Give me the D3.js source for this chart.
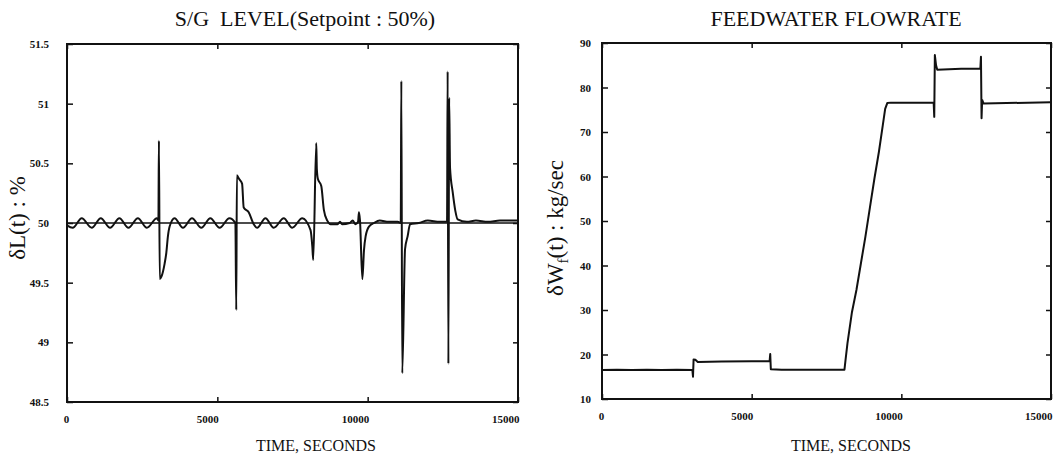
<!DOCTYPE html>
<html>
<head>
<meta charset="utf-8">
<script src="https://cdn.jsdelivr.net/npm/d3@7"></script>
<style>
  html, body { margin: 0; padding: 0; background: #fff; }
  svg { display: block; }
  text { font-family: "Liberation Serif", "Times New Roman", serif; fill: #111; }
  .tick text { font-weight: bold; font-size: 11px; }
</style>
</head>
<body>
<svg id="chart" width="1059" height="459"></svg>
<script>
// Time axis (seconds) shared by both panels
const timeTicks = [0, 5000, 10000, 15000];

// Steam generator level response, % (setpoint 50 %)
const levelTicks = [48.5, 49, 49.5, 50, 50.5, 51, 51.5];
const levelTime = [
  0, 190, 490, 823, 1123, 1433, 1743, 2043, 2357, 2657, 2990, 3040,
  3057, 3085, 3140, 3247, 3303, 3357, 3413, 3577, 3857, 4157, 4467, 4767,
  5077, 5400, 5600, 5630, 5650, 5720, 5823, 5877, 6043, 6210, 6323, 6600,
  6877, 7210, 7490, 7823, 8100, 8160, 8190, 8290, 8310, 8343, 8457, 8543,
  8657, 8767, 9000, 9080, 9150, 9400, 9500, 9600, 9680, 9710, 9745, 9823,
  9877, 9933, 10043, 10210, 10400, 10700, 11000, 11100, 11120, 11150, 11243, 11330,
  11410, 11700, 12000, 12400, 12640, 12660, 12685, 12710, 12740, 12827, 12917, 12993,
  13300, 13600, 14000, 14400, 15000
];
const levelValue = [
  49.98, 49.96, 50.04, 49.96, 50.04, 49.96, 50.04, 49.96, 50.04, 49.96, 50.04, 50.02,
  50.69, 49.53, 49.55, 49.66, 49.75, 49.89, 49.97, 50.04, 49.96, 50.04, 49.96, 50.04,
  49.96, 50.04, 50.00, 49.27, 50.40, 50.37, 50.33, 50.13, 50.09, 49.99, 49.96, 50.04,
  49.96, 50.04, 49.96, 50.04, 49.94, 49.80, 49.69, 50.67, 50.45, 50.37, 50.31, 50.11,
  50.02, 49.99, 49.99, 50.01, 49.99, 50.00, 50.02, 49.99, 50.01, 50.09, 50.02, 49.53,
  49.77, 49.89, 49.97, 50.00, 50.02, 50.01, 50.01, 50.00, 51.19, 48.74, 49.78, 49.89,
  49.99, 50.00, 50.02, 50.01, 50.01, 51.27, 48.82, 51.05, 50.46, 50.26, 50.10, 50.03,
  50.01, 50.02, 50.01, 50.02, 50.02
];
const setpoint = [50];

// Feedwater flow rate, kg/sec
const flowTicks = [10, 20, 30, 40, 50, 60, 70, 80, 90];
const flowTime = [
  0, 500, 1000, 1500, 2000, 2500, 3020, 3040, 3060, 3120, 3200, 4000,
  5000, 5600, 5620, 5640, 6000, 7000, 8100, 8140, 8200, 8350, 8500, 8650,
  8800, 8950, 9100, 9250, 9380, 9460, 9530, 9650, 11080, 11100, 11120, 11160,
  11200, 12000, 12640, 12660, 12680, 12700, 12750, 15000
];
const flowValue = [
  16.5, 16.6, 16.5, 16.6, 16.5, 16.6, 16.5, 15.0, 18.9, 18.8, 18.3, 18.4,
  18.5, 18.5, 20.1, 16.7, 16.6, 16.6, 16.6, 19.0, 22.5, 29.5, 34.5, 40.5,
  46.5, 53.0, 59.5, 65.5, 71.5, 75.2, 76.5, 76.6, 76.6, 73.4, 87.3, 85.0,
  84.0, 84.2, 84.2, 86.9, 73.1, 77.2, 76.4, 76.7
];

const svg = d3.select("#chart");

function panel(opts) {
  const { left, top, width, height, yDomain, yTicks, yFmt, yPad,
          times, values, curve, title, titleX, titleY, yLabel, yLabelX, yLabelY,
          xLabelX, refs } = opts;

  const x = d3.scaleLinear().domain([0, 15000]).range([0, width]);
  const y = d3.scaleLinear().domain(yDomain).range([height, 0]);
  const g = svg.append("g").attr("transform", `translate(${left},${top})`);

  // reference lines
  (refs || []).forEach(v => {
    g.append("line")
      .attr("x1", 0).attr("x2", width)
      .attr("y1", y(v)).attr("y2", y(v))
      .attr("stroke", "#111").attr("stroke-width", 1.3);
  });

  // signal trace
  const pts = times.map((t, i) => [t, values[i]]);
  g.append("path")
    .datum(pts)
    .attr("fill", "none")
    .attr("stroke", "#111")
    .attr("stroke-width", 2)
    .attr("stroke-linejoin", "round")
    .attr("d", d3.line().x(d => x(d[0])).y(d => y(d[1])).curve(curve));

  // left axis with inward ticks
  const ya = g.append("g").call(
    d3.axisLeft(y).tickValues(yTicks).tickFormat(yFmt)
      .tickSizeInner(-6).tickSizeOuter(0).tickPadding(yPad));
  ya.select(".domain").remove();

  // right axis ticks only
  const yr = g.append("g").attr("transform", `translate(${width},0)`).call(
    d3.axisRight(y).tickValues(yTicks).tickFormat("")
      .tickSizeInner(-5).tickSizeOuter(0));
  yr.select(".domain").remove();

  // bottom axis
  const xa = g.append("g").attr("transform", `translate(0,${height})`).call(
    d3.axisBottom(x).tickValues(timeTicks).tickFormat(d3.format("d"))
      .tickSizeInner(-5).tickSizeOuter(0).tickPadding(13));
  xa.select(".domain").remove();
  xa.selectAll(".tick text")
    .attr("text-anchor", d => d === 0 ? "middle" : "end")
    .attr("dx", d => d === 0 ? "-1" : "1");

  // top axis ticks only
  const xt = g.append("g").call(
    d3.axisTop(x).tickValues(timeTicks).tickFormat("")
      .tickSizeInner(-5).tickSizeOuter(0));
  xt.select(".domain").remove();

  g.selectAll(".tick line").attr("stroke", "#111").attr("stroke-width", 1.5);

  // frame
  g.append("rect")
    .attr("x", 0).attr("y", 0).attr("width", width).attr("height", height)
    .attr("fill", "none").attr("stroke", "#111").attr("stroke-width", 2);

  // titles
  svg.append("text")
    .attr("x", titleX).attr("y", titleY)
    .attr("text-anchor", "middle")
    .attr("font-size", 22)
    .attr("xml:space", "preserve")
    .text(title);

  svg.append("text")
    .attr("x", xLabelX).attr("y", 451)
    .attr("text-anchor", "middle")
    .attr("font-size", 16)
    .text("TIME, SECONDS");

  const yl = svg.append("text")
    .attr("transform", `translate(${yLabelX},${yLabelY}) rotate(-90)`)
    .attr("text-anchor", "middle")
    .attr("font-size", 23);
  yLabel(yl);
}

panel({
  left: 67, top: 44, width: 451, height: 358,
  yDomain: [48.5, 51.5], yTicks: levelTicks, yFmt: d3.format("~g"), yPad: 18,
  times: levelTime, values: levelValue, curve: d3.curveMonotoneX,
  title: "S/G  LEVEL(Setpoint : 50%)", titleX: 305, titleY: 26,
  yLabel: t => {
    t.append("tspan").text("δL(t) : %");
  },
  yLabelX: 25, yLabelY: 218, xLabelX: 316, refs: setpoint
});

panel({
  left: 602, top: 43, width: 449, height: 356,
  yDomain: [10, 90], yTicks: flowTicks, yFmt: d3.format("d"), yPad: 11,
  times: flowTime, values: flowValue, curve: d3.curveLinear,
  title: "FEEDWATER FLOWRATE", titleX: 836, titleY: 26,
  yLabel: t => {
    t.append("tspan").text("δW");
    t.append("tspan").attr("font-size", 15).attr("dy", 5).text("f");
    t.append("tspan").attr("dy", -5).text("(t) : kg/sec");
  },
  yLabelX: 563, yLabelY: 228, xLabelX: 851, refs: []
});
</script>
</body>
</html>
